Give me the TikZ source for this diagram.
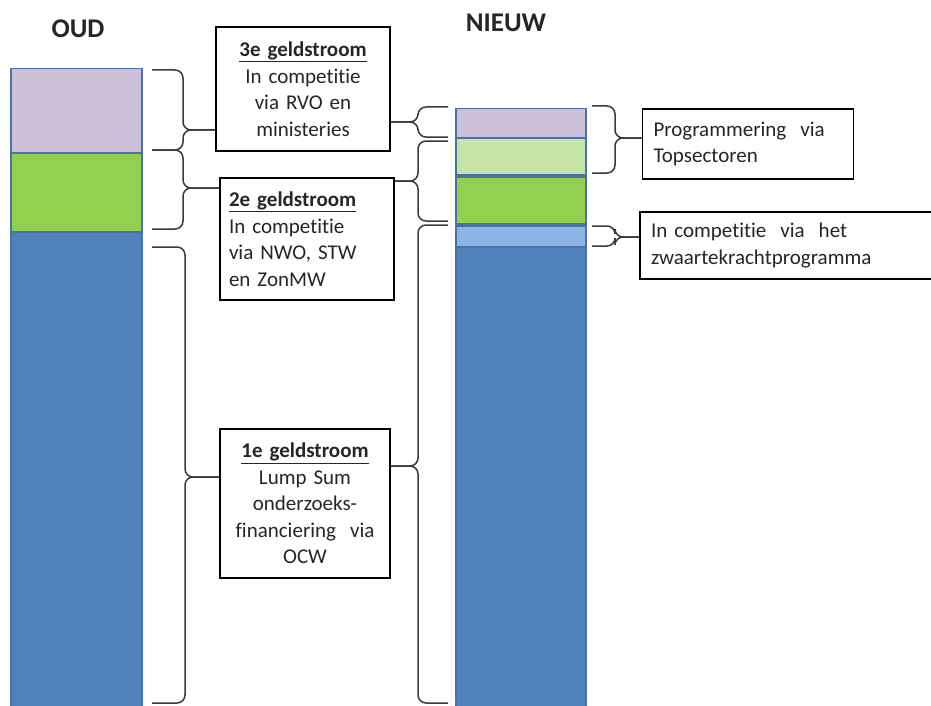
\documentclass[tikz,border=0pt]{standalone}
\usepackage{fontspec}
\setmainfont{Carlito}[Ligatures={NoCommon,NoContextual}]

\definecolor{lila}{HTML}{CCC0DA}
\definecolor{groen}{HTML}{92D050}
\definecolor{lichtgroen}{HTML}{C6E4A8}
\definecolor{lichtblauw}{HTML}{8EB4E3}
\definecolor{blauw}{HTML}{4F81BD}
\definecolor{rand}{HTML}{4A72A6}
\definecolor{haakkleur}{HTML}{3A3A3A}

\begin{document}
\begin{tikzpicture}[x=1pt, y=-1pt,
      every node/.append style={font=\fontsize{21}{26.5}\selectfont, text=black!85},
      bar/.style={draw=rand, line width=1.5pt, inner sep=0pt, anchor=north west},
      box/.style={draw=black, line width=1.8pt, inner ysep=0pt, inner xsep=0pt},
      haak/.style={draw=haakkleur, line width=1.5pt, rounded corners=8pt}]
    \tikzstyle{titel} = [font=\fontsize{27}{30}\selectfont\bfseries]
    \useasboundingbox (0,0) rectangle (931,706);
    \clip (0,0) rectangle (931,706);
    \fill[white] (0,0) rectangle (931,706);

    % titels
    \node[titel] (oud) at (78,29) {OUD};
    \node[titel] (nieuw) at (506,23) {NIEUW};

    % oude verdeling
    \node[bar, fill=lila, minimum width=131pt, minimum height=84pt] (oudlila) at (10,68) {};
    \node[bar, fill=groen, minimum width=131pt, minimum height=79pt] (oudgroen) at (10,152) {};
    \node[bar, fill=blauw, minimum width=131pt, minimum height=500pt] (oudblauw) at (10,231) {};

    % nieuwe verdeling
    \node[bar, fill=lila, minimum width=130pt, minimum height=29pt] (nwlila) at (455,108) {};
    \node[bar, fill=lichtgroen, minimum width=130pt, minimum height=37pt] (nwlichtgroen) at (455,137) {};
    \node[bar, fill=groen, minimum width=130pt, minimum height=47pt] (nwgroen) at (455,176) {};
    \node[bar, fill=lichtblauw, minimum width=130pt, minimum height=21pt] (nwlichtblauw) at (455,225) {};
    \node[bar, fill=blauw, minimum width=130pt, minimum height=480pt] (nwblauw) at (455,246) {};

    % geldstromen
    \node[box, minimum height=124pt, text width=174pt, align=center] (drie) at (303,89)
      {\underline{\textbf{3e geldstroom}}\\In competitie\\via RVO en\\ministeries};
    \node[box, minimum height=122pt, text width=156pt, inner xsep=9pt, align=left] (twee) at (307,239)
      {\underline{\textbf{2e geldstroom}}\\In competitie\\via NWO, STW\\en ZonMW};
    \node[box, minimum height=149pt, text width=170pt, align=center] (een) at (305,503.5)
      {\underline{\textbf{1e geldstroom}}\\Lump Sum\\onderzoeks-\\financiering\ \ via\\OCW};
    \node[box, minimum height=70pt, text width=189pt, inner xsep=11pt, align=left] (prog) at (748,144)
      {Programmering\ \ via\\Topsectoren};
    \node[box, minimum height=67pt, text width=298pt, inner xsep=11pt, align=left] (zwaar) at (800,245.5)
      {In competitie\ \ via\ \ het\\zwaartekrachtprogramma};

    % accolades
    \foreach \xe/\xs/\yb/\yt/\yo/\doel in {152/183/70/130/150/drie.west,
        152/183/150/188/229/twee.west, 152/185/247/477/703/een.west,
        448/418/107/122/137/drie.east, 448/418/141/181/221/twee.east,
        448/418/225/466/703/een.east, 592/615/106/138/173/prog.west,
        592/615/226/237/246/zwaar.west}
    {
      \draw[haak] (\xe,\yb) -- (\xs,\yb) -- (\xs,\yt) -- (\doel |- 0,\yt);
      \draw[haak] (\xe,\yo) -- (\xs,\yo) -- (\xs,\yt) -- (\doel |- 0,\yt);
    }
\end{tikzpicture}
\end{document}
